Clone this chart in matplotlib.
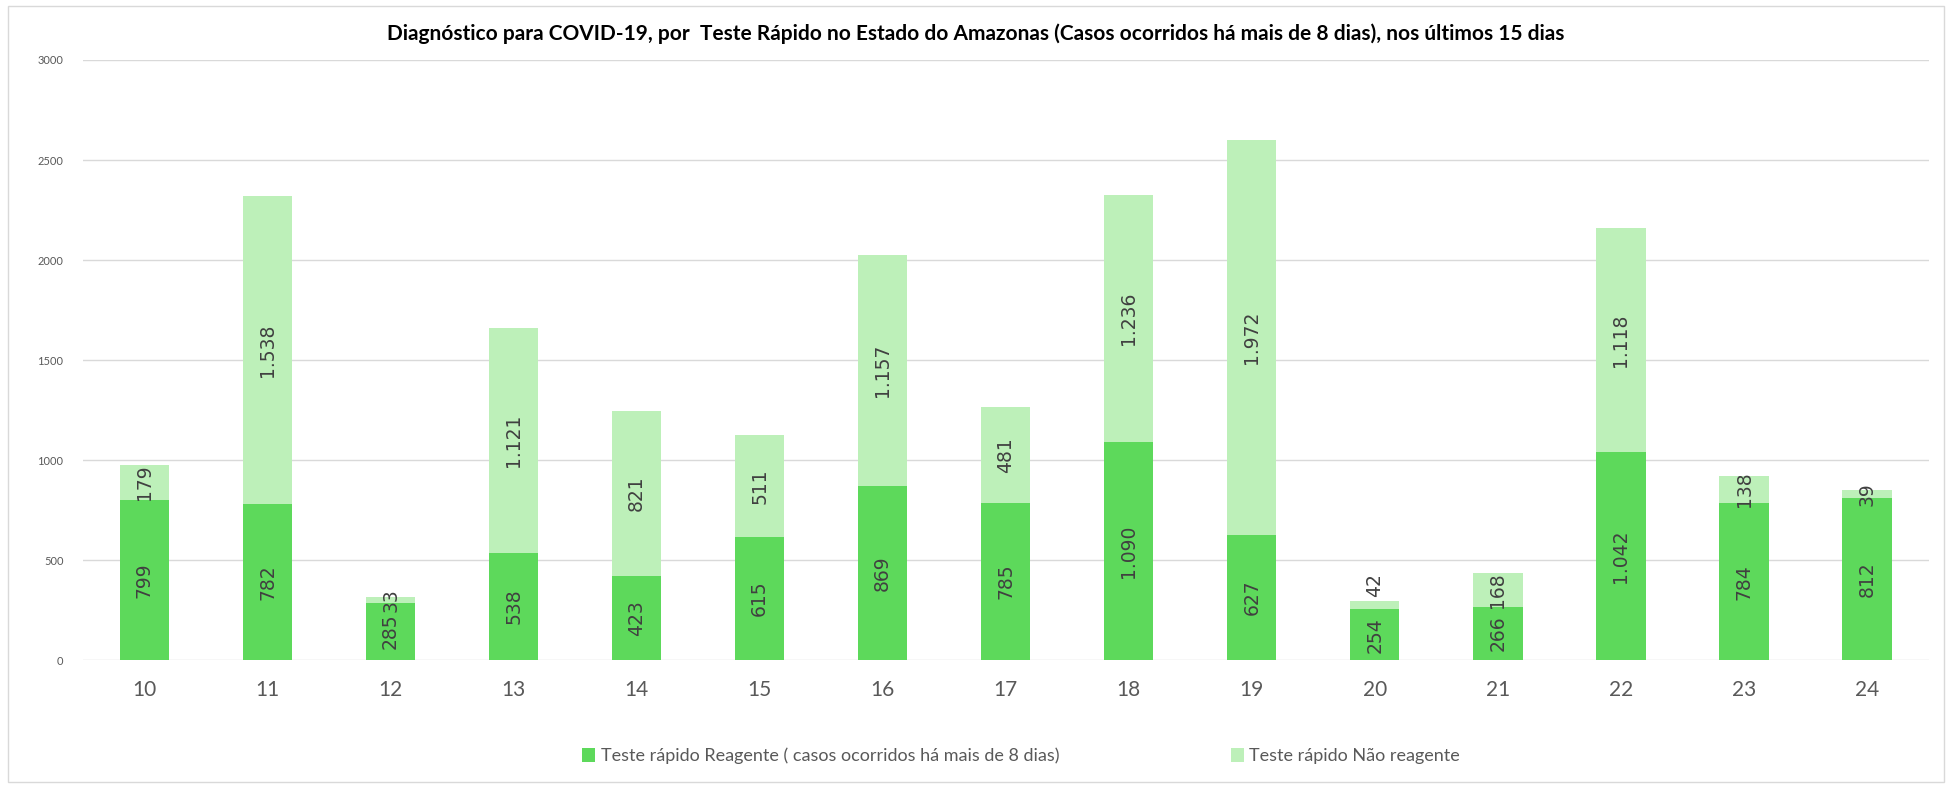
from matplotlib import pyplot as plt
from matplotlib.patches import Rectangle
import numpy as np

# dados do gráfico
dias = ['10', '11', '12', '13', '14', '15', '16', '17', '18', '19', '20', '21', '22', '23', '24']
reagente = [799, 782, 285, 538, 423, 615, 869, 785, 1090, 627, 254, 266, 1042, 784, 812]
nao_reagente = [179, 1538, 33, 1121, 821, 511, 1157, 481, 1236, 1972, 42, 168, 1118, 138, 39]
# rótulos que o Excel empurrou para cima da barra
rotulo_acima = ['20']

cor_reag = '#5dd95b'
cor_nao = '#bdf0b9'
cor_texto = '#404040'


def fmt(v):
    return '{:,}'.format(v).replace(',', '.')


fig = plt.figure(figsize=(19.52, 7.85), dpi=100)
ax = fig.add_axes([0.0425, 0.159, 0.9455, 0.7646])

x = np.arange(len(dias))
b1 = ax.bar(x, reagente, 0.4, color=cor_reag, zorder=3,
            label='Teste rápido Reagente ( casos ocorridos há mais de 8 dias)')
b2 = ax.bar(x, nao_reagente, 0.4, bottom=reagente, color=cor_nao, zorder=3,
            label='Teste rápido Não reagente')

for i in range(len(dias)):
    ax.text(x[i], reagente[i] / 2, fmt(reagente[i]), rotation=90, ha='center', va='center',
            fontsize=13.5, color=cor_texto, family='DejaVu Sans', zorder=4)
    if dias[i] in rotulo_acima:
        ax.annotate(fmt(nao_reagente[i]), (x[i], reagente[i] + nao_reagente[i]),
                    xytext=(0, 3), textcoords='offset points', rotation=90,
                    ha='center', va='bottom', fontsize=13.5, color=cor_texto,
                    family='DejaVu Sans', zorder=4)
    else:
        ax.text(x[i], reagente[i] + nao_reagente[i] / 2, fmt(nao_reagente[i]), rotation=90,
                ha='center', va='center', fontsize=13.5, color=cor_texto,
                family='DejaVu Sans', zorder=4)

ax.set_xlim(-0.5, len(dias) - 0.5)
ax.set_ylim(0, 3000)
ax.set_yticks(np.arange(0, 3001, 500))
ax.set_xticks(x)
ax.set_xticklabels(dias, fontsize=15, color='#595959', family='Lato')
for t in ax.get_yticklabels():
    t.set_fontsize(8)
    t.set_color('#595959')
    t.set_family('Lato')
ax.tick_params(length=0)
ax.tick_params(axis='x', pad=14)
ax.tick_params(axis='y', pad=14)
ax.grid(axis='y', color='#d9d9d9', linewidth=1, zorder=0)
for s in ax.spines.values():
    s.set_visible(False)

fig.text(0.5, 0.957, 'Diagnóstico para COVID-19, por  Teste Rápido no Estado do Amazonas '
         '(Casos ocorridos há mais de 8 dias), nos últimos 15 dias',
         ha='center', va='center', fontsize=15, fontweight='bold', family='Lato', color='black')

leg = fig.legend(handles=[b1, b2], loc='center', bbox_to_anchor=(0.523, 0.037), ncol=2,
                 frameon=False, handlelength=0.75, handleheight=0.8,
                 handletextpad=0.3, columnspacing=9.5, prop={'family': 'Lato', 'size': 13})
for t in leg.get_texts():
    t.set_color('#595959')

fig.patches.append(Rectangle((0.004, 0.004), 0.992, 0.988, transform=fig.transFigure,
                             fill=False, edgecolor='#d9d9d9', linewidth=1))

plt.savefig('out.png', dpi=100)
